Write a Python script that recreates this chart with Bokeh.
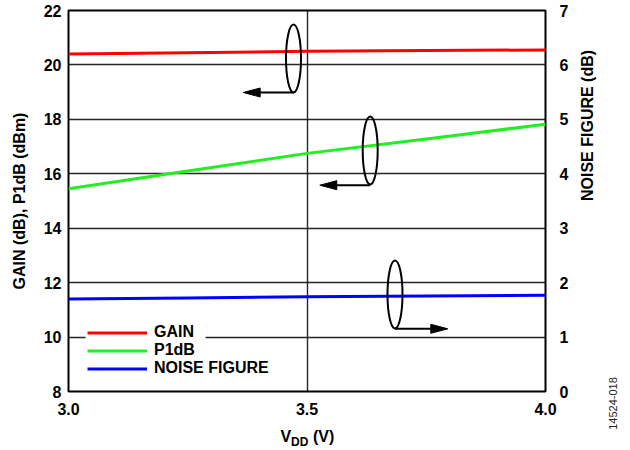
import math
from bokeh.plotting import figure
from bokeh.models import (Range1d, LinearAxis, FixedTicker, PrintfTickFormatter,
                          Label, Legend, LegendItem)
from bokeh.embed import file_html
from bokeh.resources import INLINE

# ---- data ----
vdd = [3.0, 3.25, 3.5, 3.75, 4.0]
gain_db = [20.40, 20.45, 20.50, 20.53, 20.55]
p1db_dbm = [15.45, 16.10, 16.75, 17.28, 17.82]
noise_figure_db = [1.70, 1.72, 1.74, 1.755, 1.77]

x_ticks = [3.0, 3.5, 4.0]
left_ticks = [8, 10, 12, 14, 16, 18, 20, 22]
right_ticks = [0, 1, 2, 3, 4, 5, 6, 7]

FONT = "Liberation Sans"
FW, FH = 477, 381
X0, X1, Y0, Y1 = 3.0, 4.0, 8.0, 22.0

p = figure(frame_width=FW, frame_height=FH, output_backend="svg", toolbar_location=None,
           x_range=Range1d(X0, X1), y_range=Range1d(Y0, Y1),
           min_border_left=68, min_border_right=75, min_border_top=10, min_border_bottom=50)
p.extra_y_ranges = {"nf": Range1d(0, 7)}
p.background_fill_color = "white"
p.outline_line_color = "black"
p.outline_line_width = 2

# px helpers relative to the frame (reference frame: left=68, top=11)
def dx(px):
    return X0 + (px - 68) / FW * (X1 - X0)
def dy(py):
    return Y1 - (py - 11) / FH * (Y1 - Y0)

# axes
p.xaxis.ticker = FixedTicker(ticks=x_ticks)
p.xaxis.formatter = PrintfTickFormatter(format="%.1f")
p.yaxis.ticker = FixedTicker(ticks=left_ticks)
p.yaxis.axis_label = "GAIN (dB), P1dB (dBm)"
ax_r = LinearAxis(y_range_name="nf", ticker=FixedTicker(ticks=right_ticks),
                  axis_label="NOISE FIGURE (dB)")
p.add_layout(ax_r, "right")
if hasattr(ax_r, "axis_label_orientation"):
    ax_r.axis_label_orientation = math.pi / 2

for ax in [p.xaxis[0], p.yaxis[0], ax_r]:
    ax.axis_line_color = None
    ax.major_tick_out = 0
    ax.major_tick_in = 0
    ax.minor_tick_out = 0
    ax.minor_tick_in = 0
    ax.major_label_text_font = FONT
    ax.major_label_text_font_style = "bold"
    ax.major_label_text_font_size = "16px"
    ax.major_label_text_color = "black"
    ax.axis_label_text_font = FONT
    ax.axis_label_text_font_style = "bold"
    ax.axis_label_text_font_size = "16px"
    ax.axis_label_text_color = "black"
p.xaxis.major_label_standoff = 11
p.yaxis.major_label_standoff = 7
ax_r.major_label_standoff = 14
p.yaxis.axis_label_standoff = 13
ax_r.axis_label_standoff = 16

p.xgrid.ticker = FixedTicker(ticks=x_ticks)
p.ygrid.ticker = FixedTicker(ticks=left_ticks)
for g in [p.xgrid[0], p.ygrid[0]]:
    g.grid_line_color = "black"
    g.grid_line_width = 1.4
    g.grid_line_alpha = 0.85

# mask the 10 gridline behind the legend
p.quad(left=[dx(85)], right=[dx(205)], bottom=[dy(339.5)], top=[dy(335.5)],
       fill_color="white", line_color=None)

# data lines
r_gain = p.line(vdd, gain_db, line_color="#FF0000", line_width=3)
r_p1 = p.line(vdd, p1db_dbm, line_color="#22EE22", line_width=3)
r_nf = p.line(vdd, noise_figure_db, y_range_name="nf", line_color="#0000FF", line_width=3)

legend = Legend(items=[LegendItem(label="GAIN", renderers=[r_gain]),
                       LegendItem(label="P1dB", renderers=[r_p1]),
                       LegendItem(label="NOISE FIGURE", renderers=[r_nf])],
                location=(19, 14), background_fill_alpha=0, border_line_color=None,
                padding=5, spacing=0, margin=0, glyph_width=60, glyph_height=17,
                label_height=17, label_standoff=7, label_text_font=FONT,
                label_text_font_style="bold", label_text_font_size="16px",
                label_text_color="black")
p.add_layout(legend)

# ellipses and arrows (annotation markers, positioned in page px)
ell_cx = [293, 369.7, 394.5]
ell_cy = [59, 151, 295]
arrow_y = [93, 185.7, 329.3]
arrow_tip = [242.7, 319.3, 447.3]

p.ellipse(x=[dx(v) for v in ell_cx], y=[dy(v) for v in ell_cy], width=15, height=68,
          width_units="screen", height_units="screen", fill_color=None,
          line_color="black", line_width=2)
for cx, ay, tip in zip(ell_cx, arrow_y, arrow_tip):
    direction = 1 if tip > cx else -1
    base = tip - direction * 17
    p.line([dx(cx), dx(base)], [dy(ay), dy(ay)], line_color="black", line_width=2)
    p.patch([dx(tip), dx(base), dx(base)], [dy(ay), dy(ay - 4.5), dy(ay + 4.5)],
            fill_color="black", line_color="black", line_width=1)

# x-axis label with subscript (placed in the side panel so it is not clipped)
lab_kw = dict(text_font=FONT, text_font_style="bold", text_color="black",
              text_baseline="middle", text_align="left")
p.add_layout(Label(x=dx(280), y=dy(437), text="V", text_font_size="16px", **lab_kw), "below")
p.add_layout(Label(x=dx(290.5), y=dy(442.5), text="DD", text_font_size="12px", **lab_kw), "below")
p.add_layout(Label(x=dx(312.5), y=dy(437), text="(V)", text_font_size="16px", **lab_kw), "below")

# figure id
p.add_layout(Label(x=dx(612), y=dy(404), text="14524-018", angle=math.pi / 2,
                   text_font=FONT, text_font_size="11px", text_color="#222222",
                   text_align="center", text_baseline="middle"), "right")

open("out.html", "w").write(file_html(p, INLINE))
